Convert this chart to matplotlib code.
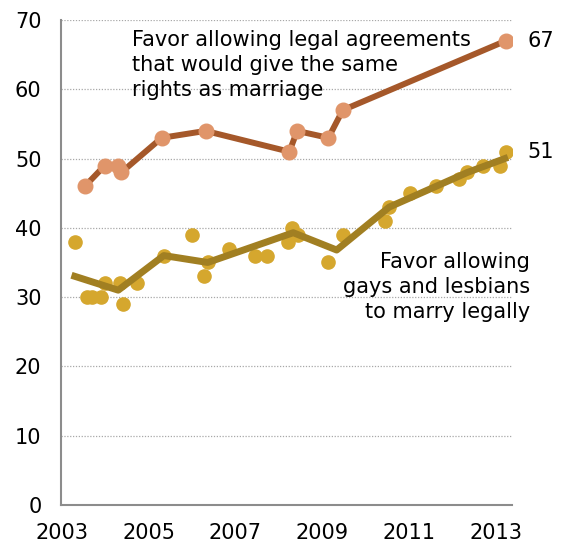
import matplotlib.pyplot as plt

# Favor legal agreements (civil unions)
civil_years = [2003.53, 2003.99, 2004.3, 2004.37, 2005.3, 2006.31, 2008.24, 2008.42,
               2009.14, 2009.47, 2013.22]
civil_vals = [46, 49, 49, 48, 53, 54, 51, 54, 53, 57, 67]

# Favor same-sex marriage: individual polls
marry_years = [2003.3, 2003.57, 2003.7, 2003.91, 2004.0, 2004.34, 2004.4, 2004.74,
               2005.35, 2006.0, 2006.27, 2006.36, 2006.85, 2007.45, 2007.72,
               2008.22, 2008.31, 2008.44, 2009.14, 2009.47, 2010.44, 2010.54,
               2011.02, 2011.62, 2012.15, 2012.34, 2012.69, 2013.09, 2013.22]
marry_vals = [38, 30, 30, 30, 32, 32, 29, 32, 36, 39, 33, 35, 37, 36, 36,
              38, 40, 39, 35, 39, 41, 43, 45, 46, 47, 48, 49, 49, 51]

# smoothed trend for marriage
trend_years = [2003.3, 2004.3, 2005.35, 2006.36, 2008.33, 2009.33, 2010.54,
               2011.62, 2012.34, 2013.2]
trend_vals = [33, 31, 36, 35, 39.3, 36.8, 43, 46, 48, 50]

year_ticks = [2003, 2005, 2007, 2009, 2011, 2013]

dark_orange = '#A5582A'
light_orange = '#E0956A'
dark_gold = '#A17F22'
light_gold = '#D5A72E'

fig = plt.figure(figsize=(5.64, 5.44), dpi=100)
ax = fig.add_axes([0.108, 0.072, 0.80, 0.891])

ax.plot(marry_years, marry_vals, 'o', color=light_gold, markersize=9.5, zorder=2)
ax.plot(trend_years, trend_vals, color=dark_gold, linewidth=5, zorder=3)
ax.plot(civil_years, civil_vals, color=dark_orange, linewidth=4.3, zorder=4)
ax.plot(civil_years, civil_vals, 'o', color=light_orange, markersize=10.5, zorder=5)

ax.set_xlim(2002.98, 2013.37)
ax.set_ylim(0, 70)
ax.set_yticks(range(0, 71, 10))
ax.set_xticks(year_ticks)
ax.tick_params(length=0, labelsize=15)
ax.tick_params(axis='y', pad=14)
ax.tick_params(axis='x', pad=13)

for v in range(10, 71, 10):
    ax.axhline(v, color='#a8a8a8', linestyle=(0, (1, 1.3)), linewidth=0.9, zorder=1)

for s in ['top', 'right']:
    ax.spines[s].set_visible(False)
for s in ['left', 'bottom']:
    ax.spines[s].set_color('#8c8c8c')
    ax.spines[s].set_linewidth(1.5)

ax.text(civil_years[-1] + 0.5, civil_vals[-1], str(civil_vals[-1]), fontsize=15,
        va='center', ha='left', clip_on=False)
ax.text(marry_years[-1] + 0.5, marry_vals[-1], str(marry_vals[-1]), fontsize=15,
        va='center', ha='left', clip_on=False)

ax.text(2004.61, 63.5, 'Favor allowing legal agreements\nthat would give the same\nrights as marriage',
        fontsize=15, ha='left', va='center', linespacing=1.3)
ax.text(2013.78, 31.5, 'Favor allowing\ngays and lesbians\nto marry legally',
        fontsize=15, ha='right', va='center', linespacing=1.3, clip_on=False)

fig.savefig('out.png', dpi=100)
